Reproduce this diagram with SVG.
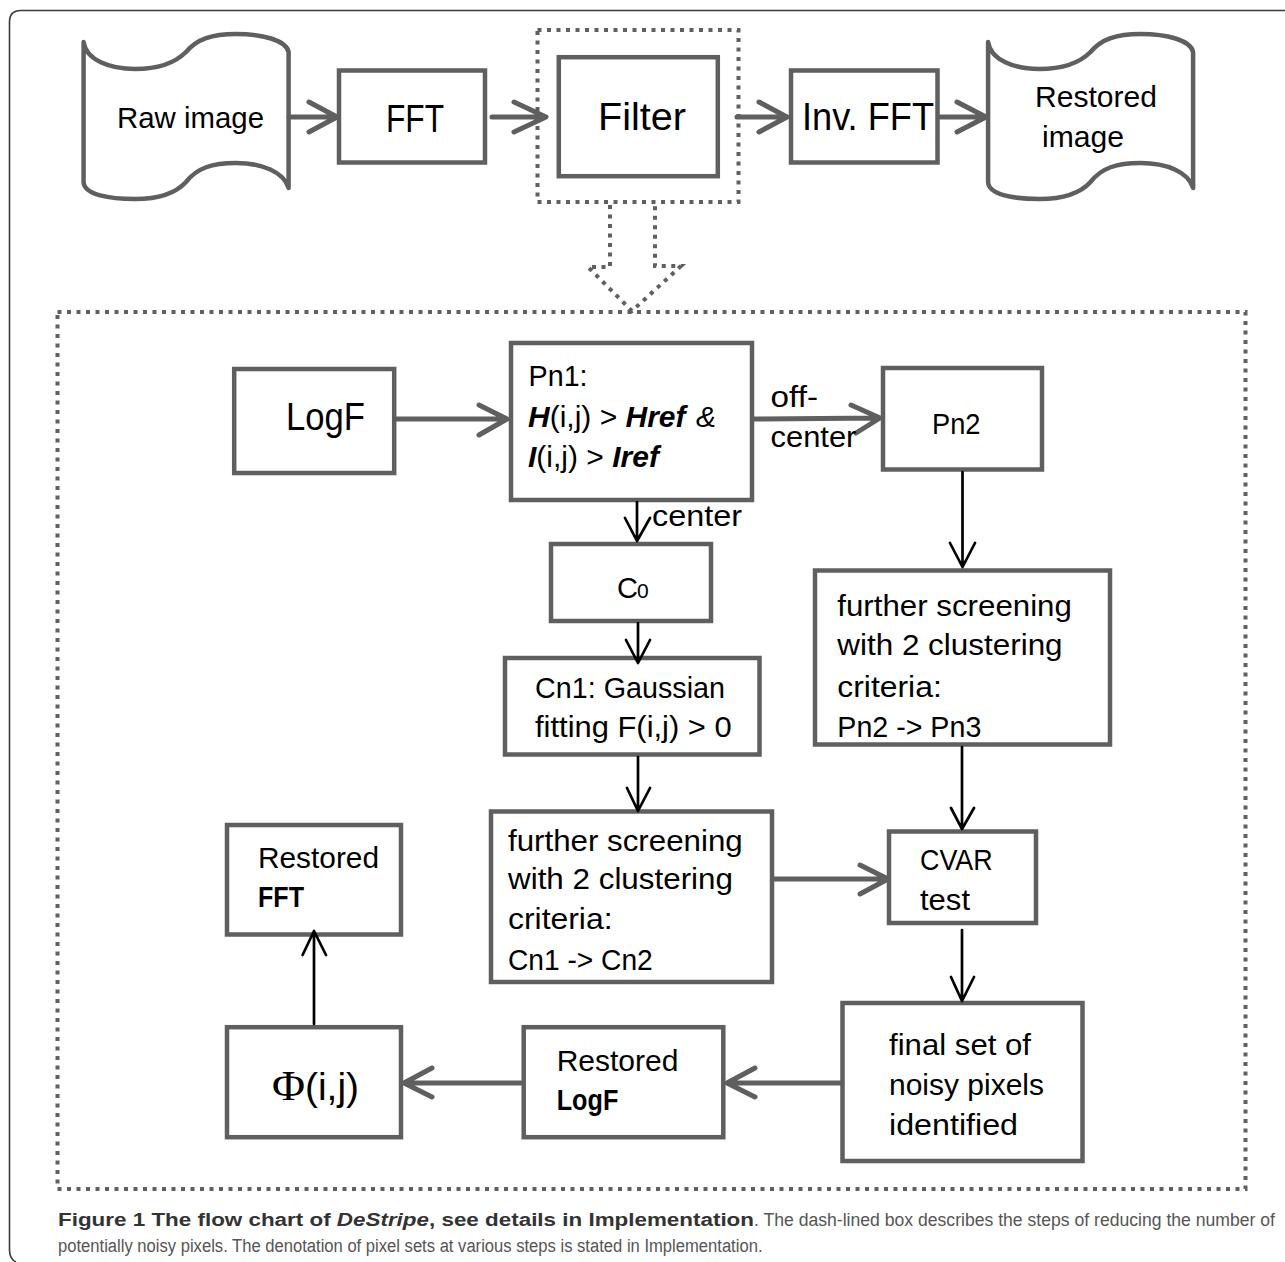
<svg xmlns="http://www.w3.org/2000/svg" width="1285" height="1262" viewBox="0 0 1285 1262">
<style>
.box{fill:#fff;stroke:#5f5f5f;stroke-width:4.5}
.doc{fill:#fff;stroke:#5f5f5f;stroke-width:4.5;stroke-linejoin:round}
.dot{fill:none;stroke:#606060;stroke-width:4;stroke-dasharray:4 5.5}
.ga{fill:none;stroke:#5f5f5f;stroke-width:5;stroke-linecap:round;stroke-linejoin:round}
.ba{fill:none;stroke:#000;stroke-width:2.7;stroke-linecap:round;stroke-linejoin:round}
text{font-family:"Liberation Sans",Arial,sans-serif;fill:#000}
.t30{font-size:30px}
.t38{font-size:38px}
.b{font-weight:bold}
.bi{font-weight:bold;font-style:italic}
.cap{font-size:18px;fill:#555}
.capb{font-size:18px;font-weight:bold;fill:#333}
</style>
<path d="M1285,10.5 H21 Q9.5,10.5 9.5,22 V1250 Q9.5,1259 16,1262" fill="none" stroke="#3a3a3a" stroke-width="1.6"/>

<g id="raw-image">
<path class="doc" d="M83.6,42 C86,60 110,69 135,69 C160,69 176,62 186,52 C197,39 212,34 236,34 C262,34 286,40 288.6,52 L288.6,188 C284,172 262,163 236,163 C212,163 197,168 186,182 C176,193 160,199 135,199 C110,199 84,195 83.6,182 Z"/>
<text class="t30" x="117" y="128" textLength="147" lengthAdjust="spacingAndGlyphs">Raw image</text>
</g>
<g id="fft">
<rect class="box" x="339" y="70.5" width="146" height="92"/>
<text class="t38" x="386" y="131.5" textLength="58" lengthAdjust="spacingAndGlyphs">FFT</text>
</g>
<g id="filter-outline">
<rect class="dot" x="537.5" y="30" width="201" height="172"/>
</g>
<g id="filter">
<rect class="box" x="558.8" y="57.2" width="159" height="119"/>
<text class="t38" x="598" y="130" textLength="88" lengthAdjust="spacingAndGlyphs">Filter</text>
</g>
<g id="inv-fft">
<rect class="box" x="791" y="70.5" width="146.5" height="92"/>
<text class="t38" x="802" y="130" textLength="132" lengthAdjust="spacingAndGlyphs">Inv. FFT</text>
</g>
<g id="restored-image">
<path class="doc" transform="translate(904.5,0)" d="M83.6,42 C86,60 110,69 135,69 C160,69 176,62 186,52 C197,39 212,34 236,34 C262,34 286,40 288.6,52 L288.6,188 C284,172 262,163 236,163 C212,163 197,168 186,182 C176,193 160,199 135,199 C110,199 84,195 83.6,182 Z"/>
<text class="t30" x="1035" y="107" textLength="122" lengthAdjust="spacingAndGlyphs">Restored</text>
<text class="t30" x="1042" y="147" textLength="82" lengthAdjust="spacingAndGlyphs">image</text>
</g>

<g id="detail-box">
<rect class="dot" x="57.5" y="312" width="1188" height="877"/>
</g>

<g id="logf">
<rect class="box" x="234.2" y="369" width="160" height="104"/>
<text class="t38" x="286" y="430" textLength="79" lengthAdjust="spacingAndGlyphs">LogF</text>
</g>
<g id="pn1">
<rect class="box" x="511" y="343" width="241" height="157"/>
<text class="t30" x="528.6" y="385.7" textLength="59" lengthAdjust="spacingAndGlyphs">Pn1:</text>
<text class="t30" x="528" y="426.7"><tspan class="bi">H</tspan><tspan>(i,j) &gt; </tspan><tspan class="bi">Href</tspan></text>
<text class="t30" x="696" y="426.7" font-style="italic">&amp;</text>
<text class="t30" x="528" y="466.7"><tspan class="bi">I</tspan><tspan>(i,j) &gt; </tspan><tspan class="bi">Iref</tspan></text>
</g>
<g id="pn2">
<rect class="box" x="883" y="368" width="159" height="101.5"/>
<text class="t30" x="932" y="434" textLength="48.5" lengthAdjust="spacingAndGlyphs">Pn2</text>
</g>
<g id="c0">
<rect class="box" x="551" y="544" width="160" height="77"/>
<text x="617" y="598" font-size="29">C</text>
<text x="637" y="598" font-size="21">0</text>
</g>
<g id="cn1">
<rect class="box" x="505" y="658" width="254.5" height="96.5"/>
<text class="t30" x="535" y="698" textLength="190" lengthAdjust="spacingAndGlyphs">Cn1: Gaussian</text>
<text class="t30" x="535" y="736.5" textLength="196.7" lengthAdjust="spacingAndGlyphs">fitting F(i,j) &gt; 0</text>
</g>
<g id="pn-screening">
<rect class="box" x="815" y="570.5" width="295" height="174"/>
<text class="t30" x="837.3" y="616" textLength="234.6" lengthAdjust="spacingAndGlyphs">further screening</text>
<text class="t30" x="837.3" y="655" textLength="225.3" lengthAdjust="spacingAndGlyphs">with 2 clustering</text>
<text class="t30" x="837.3" y="696.7" textLength="104.5" lengthAdjust="spacingAndGlyphs">criteria:</text>
<text class="t30" x="837.3" y="736.5" textLength="144" lengthAdjust="spacingAndGlyphs">Pn2 -&gt; Pn3</text>
</g>
<g id="cn-screening">
<rect class="box" x="491" y="811.5" width="281" height="170.5"/>
<text class="t30" x="508" y="851" textLength="234.7" lengthAdjust="spacingAndGlyphs">further screening</text>
<text class="t30" x="508" y="889.3" textLength="225" lengthAdjust="spacingAndGlyphs">with 2 clustering</text>
<text class="t30" x="508" y="929.3" textLength="104.5" lengthAdjust="spacingAndGlyphs">criteria:</text>
<text class="t30" x="508" y="970" textLength="144.7" lengthAdjust="spacingAndGlyphs">Cn1 -&gt; Cn2</text>
</g>
<g id="cvar">
<rect class="box" x="889" y="831.5" width="147" height="91.5"/>
<text class="t30" x="920" y="870" textLength="72.7" lengthAdjust="spacingAndGlyphs">CVAR</text>
<text class="t30" x="920" y="910" textLength="50" lengthAdjust="spacingAndGlyphs">test</text>
</g>
<g id="final-set">
<rect class="box" x="842.5" y="1003" width="240" height="158"/>
<text class="t30" x="889" y="1055" textLength="142" lengthAdjust="spacingAndGlyphs">final set of</text>
<text class="t30" x="889" y="1095" textLength="155" lengthAdjust="spacingAndGlyphs">noisy pixels</text>
<text class="t30" x="889" y="1135" textLength="129" lengthAdjust="spacingAndGlyphs">identified</text>
</g>
<g id="restored-logf">
<rect class="box" x="523.7" y="1027.2" width="199.6" height="110"/>
<text class="t30" x="556.7" y="1070.7" textLength="121.7" lengthAdjust="spacingAndGlyphs">Restored</text>
<text class="t30 b" x="556.7" y="1110" textLength="61.6" lengthAdjust="spacingAndGlyphs">LogF</text>
</g>
<g id="phi">
<rect class="box" x="227" y="1027.2" width="174" height="110"/>
<text x="272" y="1100" style="font-family:'Liberation Serif',serif" font-size="42" textLength="33" lengthAdjust="spacingAndGlyphs">Φ</text>
<text class="t38" x="305" y="1100" textLength="54" lengthAdjust="spacingAndGlyphs">(i,j)</text>
</g>
<g id="restored-fft">
<rect class="box" x="227" y="825" width="174" height="109.5"/>
<text class="t30" x="258" y="868.3" textLength="121" lengthAdjust="spacingAndGlyphs">Restored</text>
<text class="t30 b" x="258" y="907.3" textLength="46" lengthAdjust="spacingAndGlyphs">FFT</text>
</g>

<g id="connectors">
<path class="ga" d="M289,117 H337 M309,102 L337,117 L309,132"/>
<path class="ga" d="M492,117 H545 M514,102 L546,117 L514,132"/>
<path class="ga" d="M737,117 H787 M759,102 L787,117 L759,132"/>
<path class="ga" d="M940,117 H986 M957,102 L986,117 L957,132"/>
<path class="dot" d="M610,205 V267 H588 L632,311 L681,266 H655 V205"/>
<path class="ga" d="M396,419 H507 M479,405 L507,419 L479,435"/>
<path class="ga" d="M754,419 L880,418 M851,405 L880,418 L856,433"/>
<path class="ga" d="M774,879 H888 M860,865 L888,879 L860,894"/>
<path class="ga" d="M840,1083 H727 M755,1068 L727,1083 L755,1097"/>
<path class="ga" d="M521,1083 H404 M432,1068 L404,1083 L432,1097"/>
<path class="ba" d="M637,502 V541 M625,518 L637,541 L650,518"/>
<path class="ba" d="M638,623 V662 M626,640 L638,663 L650,640"/>
<path class="ba" d="M638,757 V810 M627,788 L638,811 L650,788"/>
<path class="ba" d="M962.5,472 V567 M950,543 L962.5,567 L975,543"/>
<path class="ba" d="M962,747 V829 M951,808 L962,829 L974,808"/>
<path class="ba" d="M962,930 V1001 M951,977 L962,1001 L974,977"/>
<path class="ba" d="M314,1024 V931 M302.6,955 L314,931 L326,955"/>
<text class="t30" x="652" y="526" textLength="90" lengthAdjust="spacingAndGlyphs">center</text>
<text class="t30" x="770.6" y="407.3" textLength="47.4" lengthAdjust="spacingAndGlyphs">off-</text>
<text class="t30" x="770.6" y="446.7" textLength="85.8" lengthAdjust="spacingAndGlyphs">center</text>
</g>

<g id="caption">
<text class="capb" x="58" y="1226" textLength="696" lengthAdjust="spacingAndGlyphs">Figure 1 The flow chart of <tspan font-style="italic">DeStripe</tspan>, see details in Implementation</text>
<text class="cap" x="754" y="1226" textLength="521" lengthAdjust="spacingAndGlyphs">. The dash-lined box describes the steps of reducing the number of</text>
<text class="cap" x="58" y="1252" textLength="704.5" lengthAdjust="spacingAndGlyphs">potentially noisy pixels. The denotation of pixel sets at various steps is stated in Implementation.</text>
</g>
</svg>
